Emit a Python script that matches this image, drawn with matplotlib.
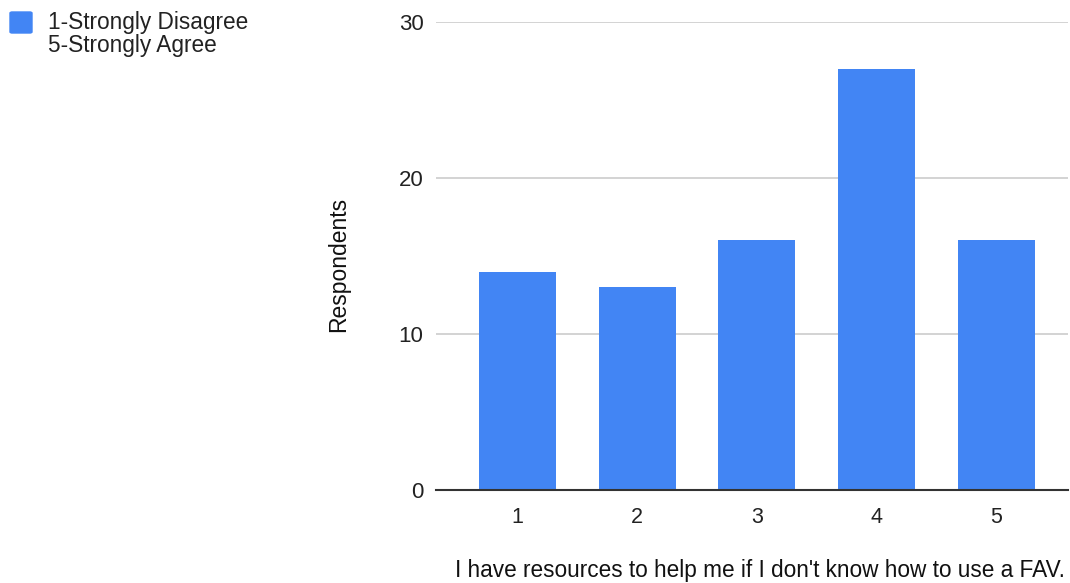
import matplotlib.pyplot as plt
from matplotlib.patches import FancyBboxPatch

plt.rcParams['font.family'] = ['Liberation Sans', 'DejaVu Sans']

# survey answers on a 1-5 scale
ratings = ['1', '2', '3', '4', '5']
counts = [14, 13, 16, 27, 16]
y_ticks = [0, 10, 20, 30]
legend_lines = ['1-Strongly Disagree', '5-Strongly Agree']

bar_color = '#4285F4'
W, H = 1070, 583

fig = plt.figure(figsize=(W / 100, H / 100), dpi=100)
ax = fig.add_axes([0.4075, 0.1595, 0.5907, 0.8028])

pos = range(len(ratings))
ax.bar(pos, counts, width=0.645, color=bar_color, zorder=3)
ax.set_xlim(-0.68, 4.6)
ax.set_ylim(0, 30)

ax.set_xticks(list(pos))
ax.set_xticklabels(ratings)
ax.set_yticks(y_ticks)
ax.tick_params(axis='x', length=0, pad=12, labelsize=15.5, colors='#222222')
ax.tick_params(axis='y', length=0, pad=9, labelsize=16, colors='#222222')

ax.grid(axis='y', color='#cccccc', linewidth=1.2, zorder=0)
for s in ['top', 'right', 'left']:
    ax.spines[s].set_visible(False)
ax.spines['bottom'].set_color('#333333')
ax.spines['bottom'].set_linewidth(1.5)
ax.spines['bottom'].set_zorder(4)

ax.set_ylabel('Respondents', fontsize=16.5, color='#111111')
ax.yaxis.set_label_coords(-0.136, 0.481)

fig.text(760 / W, 1 - 571 / H,
         "I have resources to help me if I don't know how to use a FAV.",
         fontsize=16.3, color='#111111', ha='center', va='center')

# legend drawn by hand so the swatch sits next to the first line
fig.patches.append(FancyBboxPatch((10 / W, 1 - 33 / H), 22 / W, 21 / H,
                                  boxstyle='round,pad=0,rounding_size=0.002',
                                  transform=fig.transFigure, color=bar_color))
for line, base in zip(legend_lines, [29, 52]):
    fig.text(48 / W, 1 - base / H, line, fontsize=16.3, color='#222222',
             va='baseline', ha='left')

fig.savefig('out.png', dpi=100, facecolor='white')
